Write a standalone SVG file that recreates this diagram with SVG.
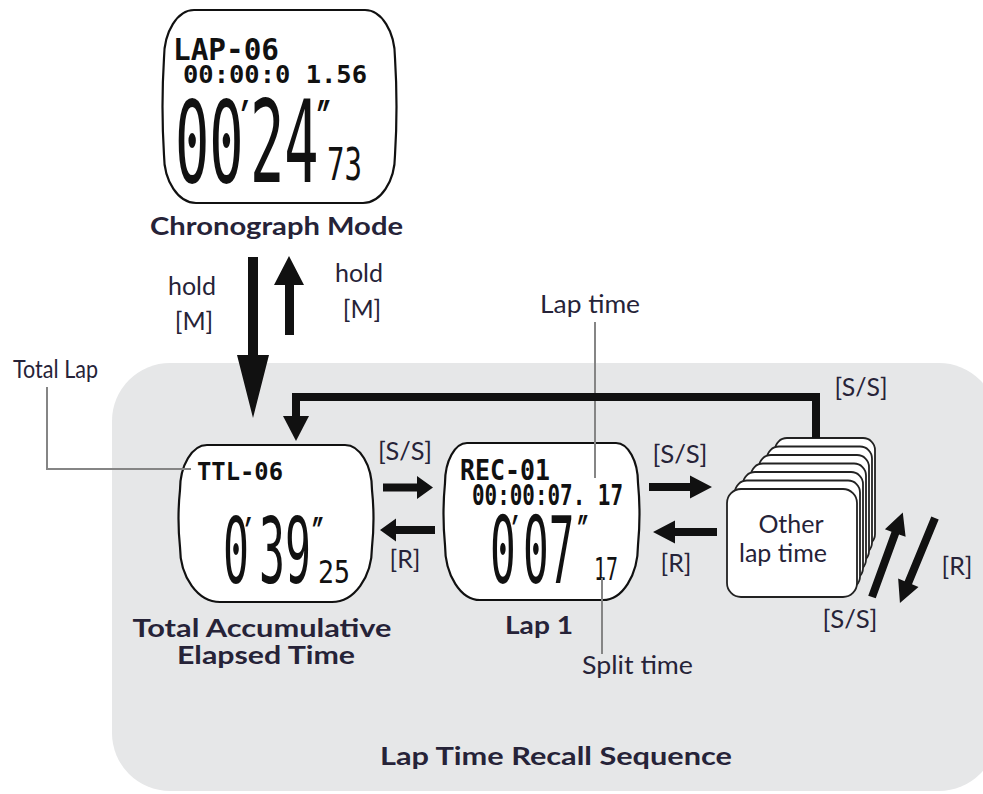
<svg xmlns="http://www.w3.org/2000/svg" width="983" height="794" viewBox="0 0 983 794">
<style>
.lbl{font-family:Lato,"Open Sans","Liberation Sans",sans-serif;fill:#262338;font-size:25px}
.b{font-weight:bold}
.mid{text-anchor:middle}
.lcd{font-family:"DejaVu Sans Mono","Liberation Mono",monospace;font-weight:bold;fill:#111}
.big{font-family:"DejaVu Sans Mono","Liberation Mono",monospace;font-weight:normal;fill:#111}
.pr{font-family:"DejaVu Sans",sans-serif;font-weight:bold;fill:#111}
.face{fill:#fff;stroke:#111;stroke-width:2.2}
.card{fill:#fff;stroke:#222;stroke-width:1.8}
.lead{fill:none;stroke:#858585;stroke-width:2}
.arr{fill:#111}
</style>
<rect x="112" y="363" width="885" height="428" rx="58" fill="#e6e7e8"/>

<g id="chronograph">
<path class="face" d="M194 10 L365 10 C381.5 10 395 31.6 395 58 Q398 106.5 395 155 C395 181.4 380.6 203 363 203 L196 203 C178.4 203 164 181.4 164 155 Q161 106.5 164 58 C164 31.6 177.5 10 194 10 Z"/>
<text class="lcd"><tspan x="173" y="60" font-size="30" textLength="106" lengthAdjust="spacingAndGlyphs">LAP-06</tspan><tspan x="183" y="83" font-size="24" textLength="184" lengthAdjust="spacingAndGlyphs">00:00:0 1.56</tspan></text>
<text class="big" font-size="114" transform="translate(175,182) scale(0.5,1)"><tspan x="0" y="0">00</tspan><tspan class="pr" font-size="60" x="132" y="-38">′</tspan><tspan x="150" y="0">24</tspan><tspan class="pr" font-size="60" x="284" y="-38">″</tspan></text>
<text class="big" x="327" y="180" font-size="44" textLength="35" lengthAdjust="spacingAndGlyphs">73</text>
<text class="lbl b mid" x="276.5" y="235" font-size="28" textLength="253" lengthAdjust="spacingAndGlyphs">Chronograph Mode</text>
</g>

<g id="total">
<path class="face" d="M207 445 L345 445 C359.85 445 372 465.25 372 490 Q375 518.5 372 547 C372 577.25 354 602 332 602 L220 602 C198 602 180 577.25 180 547 Q177 518.5 180 490 C180 465.25 192.15 445 207 445 Z"/>
<text class="lcd" x="197" y="480" font-size="25" textLength="86" lengthAdjust="spacingAndGlyphs">TTL-06</text>
<text class="big" font-size="90" transform="translate(223,583) scale(0.48,1)"><tspan x="0" y="0">0</tspan><tspan class="pr" font-size="52" x="46" y="-28">′</tspan><tspan x="75" y="0">39</tspan><tspan class="pr" font-size="52" x="186" y="-28">″</tspan></text>
<text class="big" x="318" y="583" font-size="32" textLength="32" lengthAdjust="spacingAndGlyphs">25</text>
<text class="lbl b mid"><tspan x="262" y="637" textLength="259" lengthAdjust="spacingAndGlyphs">Total Accumulative</tspan><tspan x="266" y="664" textLength="178" lengthAdjust="spacingAndGlyphs">Elapsed Time</tspan></text>
</g>

<g id="lap1">
<path class="face" d="M467 443 L616 443 C628.1 443 638 461 638 483 Q641 514 638 545 C638 575.25 622.25 600 603 600 L480 600 C460.75 600 445 575.25 445 545 Q442 514 445 483 C445 461 454.9 443 467 443 Z"/>
<text class="lcd" font-size="28"><tspan x="460" y="480" textLength="90" lengthAdjust="spacingAndGlyphs">REC-01</tspan><tspan x="472" y="505" textLength="151" lengthAdjust="spacingAndGlyphs">00:00:07. 17</tspan></text>
<text class="big" font-size="93" transform="translate(490,583) scale(0.46,1)"><tspan x="0" y="0">0</tspan><tspan class="pr" font-size="52" x="48" y="-30">′</tspan><tspan x="72" y="0">07</tspan><tspan class="pr" font-size="52" x="190" y="-30">″</tspan></text>
<text class="big" x="594" y="580" font-size="32" textLength="24" lengthAdjust="spacingAndGlyphs" fill="#333">17</text>
<text class="lbl b mid" x="539" y="634" font-size="27" textLength="68" lengthAdjust="spacingAndGlyphs">Lap 1</text>
</g>

<g id="others">
<rect class="card" x="775" y="438" width="100" height="108" rx="12"/>
<rect class="card" x="767" y="446.5" width="105" height="108" rx="12"/>
<rect class="card" x="759" y="455" width="110" height="108" rx="12"/>
<rect class="card" x="751" y="463.5" width="115" height="108" rx="12"/>
<rect class="card" x="743" y="472" width="120" height="108" rx="12"/>
<rect class="card" x="735" y="480.5" width="125" height="108" rx="12"/>
<rect class="card" x="727" y="489" width="130" height="108" rx="14"/>
<text class="lbl mid"><tspan x="791" y="533">Other</tspan><tspan x="783" y="562">lap time</tspan></text>
</g>

<g id="callouts">
<polyline class="lead" points="47,387 47,469 191,469"/>
<text class="lbl" x="13" y="378" font-size="20" textLength="85" lengthAdjust="spacingAndGlyphs">Total Lap</text>
<line class="lead" x1="595" y1="322" x2="595" y2="478"/>
<text class="lbl" x="540" y="313" font-size="24" textLength="100" lengthAdjust="spacingAndGlyphs">Lap time</text>
<line class="lead" x1="602" y1="578" x2="602" y2="654"/>
<text class="lbl" x="582" y="674" font-size="24" textLength="111" lengthAdjust="spacingAndGlyphs">Split time</text>
</g>

<g id="connectors">
<polygon class="arr" points="248,257 258,257 258,355 269,355 253,418 237,355 248,355"/>
<polygon class="arr" points="285,335 294,335 294,285 304,285 289,256 274,285 285,285"/>
<path d="M816 438 V397 H296 V418" fill="none" stroke="#111" stroke-width="8"/>
<polygon class="arr" points="283,416 309,416 296,441"/>
<polygon class="arr" points="383,483.5 417,483.5 417,476 433,487.5 417,499 417,491.5 383,491.5"/>
<polygon class="arr" points="435,526 396,526 396,518.5 380,530 396,541.5 396,534 435,534"/>
<polygon class="arr" points="649,483 690,483 690,475.5 712,487 690,498.5 690,491 649,491"/>
<polygon class="arr" points="717,528 675,528 675,520.5 653,532 675,543.5 675,536 717,536"/>
<polygon class="arr" transform="translate(872,597) rotate(-70)" points="0,-4 68,-4 68,-11 90,0 68,11 68,4 0,4"/>
<polygon class="arr" transform="translate(935,518) rotate(112.4)" points="0,-4 70,-4 70,-11 92,0 70,11 70,4 0,4"/>
<text class="lbl mid"><tspan x="192" y="295">hold</tspan><tspan x="194" y="330">[M]</tspan></text>
<text class="lbl mid"><tspan x="359" y="282">hold</tspan><tspan x="362" y="318">[M]</tspan></text>
<text class="lbl mid" x="405" y="460" textLength="54" lengthAdjust="spacingAndGlyphs">[S/S]</text>
<text class="lbl mid" x="405" y="568">[R]</text>
<text class="lbl mid" x="680" y="463" textLength="55" lengthAdjust="spacingAndGlyphs">[S/S]</text>
<text class="lbl mid" x="676" y="572">[R]</text>
<text class="lbl mid" x="861" y="396" textLength="53" lengthAdjust="spacingAndGlyphs">[S/S]</text>
<text class="lbl mid" x="850" y="628" textLength="55" lengthAdjust="spacingAndGlyphs">[S/S]</text>
<text class="lbl mid" x="957" y="575">[R]</text>
</g>

<text class="lbl b mid" x="556" y="765" font-size="28" textLength="352" lengthAdjust="spacingAndGlyphs">Lap Time Recall Sequence</text>
</svg>
